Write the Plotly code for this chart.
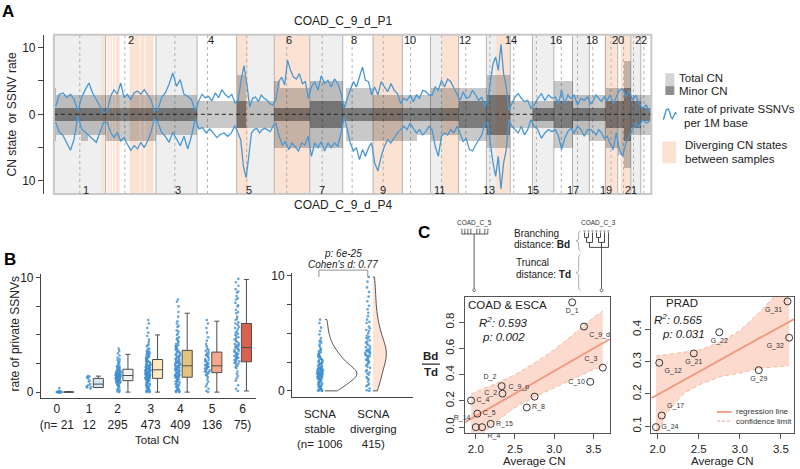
import plotly.graph_objects as go

W, H = 800, 469
FONT = "Liberation Sans, Arial, sans-serif"


def X(px):
    return px / W


def Y(py):
    return 1 - py / H


# ======================= Panel A data =======================
chrom_names = [str(i) for i in range(1, 23)]
chrom_len = [249, 243, 198, 191, 181, 171, 159, 146, 141, 136, 135, 134, 115, 107, 103, 90, 81, 78, 59, 63, 48, 51]
centromere = [125, 93, 91, 50, 48, 60, 60, 45, 49, 40, 53, 35, 17, 17, 19, 36, 24, 17, 26, 28, 13, 15]
label_pos = [154, 370, 597, 759, 942, 1134, 1292, 1444, 1586, 1716, 1858, 1980, 2096, 2204, 2309, 2418,
             2502, 2591, 2658, 2720, 2783, 2831]

# diverging CN regions (genome Mb)
div_start = [230, 258, 272, 284, 298, 365, 417, 441, 880, 1062, 1538, 1868, 2129, 2653, 2685, 2731]
div_end = [245, 267, 279, 293, 317, 413, 437, 481, 937, 1230, 1677, 1947, 2192, 2681, 2714, 2779]

# CN segments (chromosome, start Mb, end Mb within chromosome)
seg_chr = [1, 1, 1, 1, 2, 3, 4, 5, 5, 6, 6, 7, 8, 8, 9, 10, 10, 11, 11, 12, 13, 14, 15, 16, 17, 18, 19, 20, 20, 21, 22]
seg_start = [0, 12, 130, 165, 0, 0, 0, 0, 45, 0, 25, 0, 0, 15, 0, 0, 70, 0, 53, 0, 0, 0, 0, 0, 0, 0, 0, 0, 28, 0, 0]
seg_end = [12, 130, 165, 249, 243, 198, 191, 45, 181, 25, 171, 159, 15, 146, 141, 70, 136, 53, 135, 134, 115, 107,
           103, 90, 81, 78, 59, 28, 63, 48, 51]
p1_total = [4, 3, 3, 3, 3, 3, 2, 6, 2, 5, 4, 5, 2, 4, 3, 3, 3, 4, 4, 4, 6, 2, 2, 5, 3, 3, 4, 4, 8, 3, 3]
p1_minor = [1, 1, 1, 1, 1, 1, 0, 2, 0, 1, 1, 2, 1, 1, 1, 1, 1, 1, 1, 2, 3, 0, 1, 2, 1, 1, 2, 2, 4, 2, 1]
p4_total = [4, 3, 4, 3, 4, 3, 2, 2, 2, 5, 5, 5, 2, 4, 4, 4, 3, 4, 3, 4, 5, 2, 2, 5, 3, 4, 5, 6, 8, 3, 3]
p4_minor = [1, 1, 1, 1, 1, 1, 0, 2, 0, 1, 1, 2, 1, 1, 1, 1, 1, 1, 1, 2, 3, 0, 1, 2, 1, 1, 2, 2, 4, 2, 1]

# rate of private SSNVs per 1M base, per chromosome (P1 above, P4 below)
ssnv_p1 = [
    [1.2, 3.0, 3.2, 2.5, 3.0, 2.2, 0.5, 2.5, 3.7, 4.7, 3.2, 2.2, 1.2, 0.2],
    [0.5, 2.7, 3.7, 3.0, 4.7, 2.5, 3.0, 2.2, 3.2, 3.5, 3.0, 3.7, 3.0, 2.2, 0.5],
    [0.7, 2.5, 3.2, 4.5, 6.2, 4.2, 5.2, 3.0, 2.7, 2.2, 0.5],
    [2.0, 3.0, 2.5, 2.7, 2.0, 3.2, 2.5, 3.7, 3.0, 2.5, 3.0, 1.7],
    [2.1, 5.1, 7.3, 4.6, 1.1, 2.4, 2.6, 1.9, 2.9, 2.4, 2.1, 1.6, 1.4],
    [2.1, 4.9, 5.6, 4.4, 8.1, 6.6, 5.6, 5.3, 6.1, 4.6, 4.9, 2.4],
    [4.1, 4.9, 3.6, 5.8, 4.6, 5.1, 4.1, 5.3, 4.6, 3.1],
    [0.9, 2.4, 3.6, 4.9, 4.1, 5.6, 7.1, 5.1, 4.9, 2.9],
    [4.1, 2.9, 4.9, 4.1, 3.4, 4.6, 3.6, 3.1, 1.6],
    [2.4, 2.1, 2.9, 1.9, 2.9, 2.4, 3.6, 3.4, 2.9],
    [2.9, 4.1, 3.6, 5.1, 4.1, 5.3, 4.9, 3.9, 3.1],
    [2.1, 3.4, 2.4, 2.6, 3.6, 2.9, 2.1, 2.6, 1.1],
    [2.1, 5.1, 7.6, 8.6, 6.6, 10.5, 6.1, 4.1, 0.6],
    [1.6, 2.6, 3.1, 2.4, 1.9, 2.1, 0.9],
    [1.4, 2.4, 3.1, 2.1, 2.9, 2.4],
    [2.6, 1.6, 3.6, 1.6, 2.9, 2.4],
    [2.9, 1.4, 2.4, 2.1, 2.6],
    [1.6, 2.1, 2.9, 2.4, 1.9, 2.6],
    [2.1, 2.9, 1.6, 2.6],
    [3.6, 3.8, 2.6, 3.6],
    [2.1, 2.9, 1.6],
    [0.9, 1.4, 0.4],
]
ssnv_p4 = [
    [1.2, 2.7, 3.2, 4.2, 5.4, 3.7, 0.2, 2.2, 2.7, 3.2, 3.7, 4.2, 2.7, 1.2],
    [1.2, 2.7, 3.5, 2.7, 4.0, 3.5, 4.5, 5.4, 4.7, 5.2, 4.2, 5.0, 4.0, 2.7, 0.7],
    [1.2, 2.7, 3.3, 4.2, 2.7, 3.7, 4.7, 3.3, 5.2, 3.3, 0.7],
    [2.2, 2.0, 2.8, 2.2, 2.8, 3.5, 3.0, 2.8, 3.3, 2.8, 1.7],
    [2.8, 3.8, 7.8, 9.5, 6.3, 2.8, 2.3, 2.1, 2.8, 2.3, 2.1, 2.3, 2.6, 1.8],
    [1.3, 3.3, 4.6, 4.1, 5.3, 4.3, 5.0, 5.5, 4.3, 4.6, 3.3],
    [6.3, 4.3, 5.0, 4.1, 5.5, 4.3, 5.0, 4.3, 4.8, 2.8],
    [0.3, 2.3, 4.3, 5.5, 5.0, 6.8, 5.3, 6.3, 5.0, 4.3],
    [7.3, 8.5, 6.3, 4.8, 3.8, 4.3, 3.6, 2.8, 2.3],
    [1.8, 2.3, 1.3, 2.1, 2.8, 2.3, 3.1, 2.6, 1.8],
    [2.3, 4.8, 6.3, 3.3, 2.8, 3.1, 2.3, 2.8, 1.8],
    [2.8, 4.1, 3.6, 5.3, 5.5, 4.6, 3.8, 3.1, 1.3],
    [1.3, 4.3, 7.3, 9.3, 6.3, 11.2, 7.3, 5.3, 0.8],
    [1.8, 2.3, 2.8, 1.8, 3.1, 2.3, 0.8],
    [1.8, 2.3, 3.6, 2.8, 2.3, 2.6],
    [2.3, 3.3, 5.3, 3.6, 2.6, 2.1],
    [2.8, 1.8, 2.3, 3.3, 2.3],
    [2.3, 2.6, 3.1, 2.3, 2.8, 3.6],
    [3.3, 4.3, 5.3, 2.8],
    [5.3, 6.3, 4.3, 3.3],
    [2.3, 1.3, 1.8],
    [0.8, 1.3, 1.1],
]

# ======================= Panel B data =======================
cn_categories = [0, 1, 2, 3, 4, 5, 6]
cn_tick_text = ["0<br>(n= 21", "1<br>12", "2<br>295", "3<br>473", "4<br>409", "5<br>136", "6<br>75)"]
cn_tick_pos = [-0.27, 0.82, 1.78, 2.9, 3.9, 4.97, 6.0]
box_q1 = [0.0, 0.4, 1.0, 1.2, 1.3, 1.7, 2.65]
box_med = [0.0, 0.7, 1.45, 1.95, 2.3, 2.3, 3.9]
box_q3 = [0.02, 1.2, 2.0, 2.85, 3.65, 3.5, 6.0]
box_lo = [0.0, 0.4, 0.0, 0.0, 0.0, 0.0, 0.1]
box_hi = [0.05, 1.4, 3.3, 5.0, 6.9, 6.2, 9.85]
box_colors = ["#dfe9f5", "#d5e5f3", "#f2f2f2", "#fbe9c2", "#e2c481", "#f5a98a", "#d9624f"]

cn_points = [
    [0, 0, 0, 0, 0, 0.02, 0.03, 0, 0.05, 0, 0.04, 0, 0.08, 0, 0.02, 0, 0.1, 0, 0.35, 0.05, 0],
    [1.3, 1.4, 0.4, 0.5, 0.6, 0.9, 1.0, 1.35, 0.45, 0.7, 1.2, 0.3],
    [0.0, 0.05, 0.2, 0.3, 0.4, 0.5, 0.55, 0.6, 0.7, 0.75, 0.8, 0.85, 0.9, 0.95, 1.0, 1.0, 1.05, 1.1, 1.1, 1.15,
     1.2, 1.2, 1.25, 1.3, 1.3, 1.35, 1.4, 1.4, 1.45, 1.45, 1.5, 1.5, 1.55, 1.6, 1.6, 1.65, 1.7, 1.75, 1.8, 1.85,
     1.9, 1.95, 2.0, 2.0, 2.1, 2.2, 2.3, 2.4, 2.5, 2.6, 2.7, 2.8, 3.0, 3.2, 3.4, 3.6, 3.8, 1.15, 0.9, 1.6, 1.25,
     1.75, 1.05, 0.65, 2.15, 1.35, 0.15, 2.9, 1.5, 1.7, 1.12, 1.38, 1.58, 1.82, 0.98, 1.28, 2.25, 0.88],
    [0, 0, 0.05, 0.1, 0.2, 0.3, 0.4, 0.5, 0.6, 0.7, 0.8, 0.9, 1.0, 1.05, 1.1, 1.15, 1.2, 1.25, 1.3, 1.35, 1.4,
     1.45, 1.5, 1.55, 1.6, 1.65, 1.7, 1.75, 1.8, 1.85, 1.9, 1.95, 2.0, 2.05, 2.1, 2.15, 2.2, 2.25, 2.3, 2.35, 2.4,
     2.5, 2.6, 2.7, 2.8, 2.9, 3.0, 3.1, 3.2, 3.3, 3.4, 3.5, 3.6, 3.8, 4.0, 4.2, 4.4, 4.6, 4.9, 5.2, 5.6, 6.0, 6.3,
     0.35, 0.65, 0.95, 1.12, 1.28, 1.42, 1.58, 1.72, 1.88, 2.02, 2.18, 2.32, 2.48, 2.65, 2.85, 3.05, 3.25, 3.55,
     0.15, 0.55, 0.85, 1.02, 1.18, 1.33, 1.48, 1.63, 1.78, 1.92, 2.08, 2.28, 2.55, 2.75, 2.95, 3.15, 3.45, 3.75,
     4.1, 0.25, 0.75, 1.22, 1.52, 1.68, 1.98, 2.42, 2.68, 3.35, 0.45],
    [0, 0, 0.05, 0.1, 0.2, 0.3, 0.45, 0.6, 0.75, 0.9, 1.0, 1.1, 1.2, 1.3, 1.35, 1.45, 1.55, 1.65, 1.75, 1.85,
     1.95, 2.05, 2.15, 2.25, 2.3, 2.4, 2.5, 2.6, 2.7, 2.8, 2.9, 3.0, 3.15, 3.3, 3.45, 3.6, 3.75, 3.9, 4.1, 4.3,
     4.5, 4.8, 5.1, 5.4, 5.8, 6.2, 6.6, 7.0, 7.5, 8.1, 0.15, 0.4, 0.7, 0.95, 1.15, 1.25, 1.4, 1.5, 1.6, 1.7, 1.8,
     1.9, 2.0, 2.1, 2.2, 2.35, 2.45, 2.55, 2.65, 2.75, 2.95, 3.1, 3.25, 3.4, 3.55, 3.7, 3.85, 4.0, 4.2, 4.4, 4.7,
     5.0, 5.3, 5.7, 6.0, 0.5, 0.85, 1.05, 1.32, 1.62, 1.98, 2.28, 2.62, 3.05, 3.5, 4.05, 4.6, 1.38, 2.12, 2.85,
     0.25, 0.65, 1.48, 2.52, 3.22, 3.95, 7.9],
    [0, 0.1, 0.3, 0.5, 0.7, 0.9, 1.1, 1.3, 1.5, 1.6, 1.7, 1.75, 1.8, 1.9, 2.0, 2.05, 2.1, 2.2, 2.25, 2.3, 2.35,
     2.4, 2.5, 2.6, 2.7, 2.8, 2.9, 3.0, 3.1, 3.2, 3.3, 3.4, 3.5, 3.6, 3.8, 4.0, 4.2, 4.5, 4.8, 5.2, 5.6, 6.0, 6.3,
     1.45, 1.85, 2.15, 2.45, 2.75, 3.25, 3.7],
    [0.1, 0.3, 0.6, 1.0, 1.4, 1.8, 2.1, 2.3, 2.5, 2.6, 2.7, 2.8, 2.9, 3.0, 3.1, 3.2, 3.3, 3.4, 3.5, 3.6, 3.7, 3.8,
     3.9, 4.0, 4.1, 4.2, 4.3, 4.5, 4.7, 4.9, 5.1, 5.3, 5.5, 5.7, 5.9, 6.1, 6.3, 6.6, 6.9, 7.2, 7.5, 7.8, 8.1, 8.4,
     8.7, 9.0, 9.3, 9.6, 9.9, 2.2, 2.55, 2.75, 2.95, 3.15, 3.35, 3.55, 3.75, 3.95, 4.15, 4.4, 4.6, 4.8, 5.0, 5.2,
     5.6, 6.0, 6.4, 7.0, 7.6, 8.2, 8.8, 1.2, 1.6, 2.4, 3.05],
]

scna_groups = ["SCNA<br>stable<br>(n= 1006", "SCNA<br>diverging<br>415)"]
scna_stable = [0, 0, 0, 0.05, 0.1, 0.15, 0.2, 0.3, 0.4, 0.5, 0.6, 0.7, 0.8, 0.9, 1.0, 1.05, 1.1, 1.15, 1.2, 1.25,
               1.3, 1.35, 1.4, 1.45, 1.5, 1.5, 1.55, 1.6, 1.65, 1.7, 1.75, 1.8, 1.85, 1.9, 1.95, 2.0, 2.05, 2.1,
               2.2, 2.3, 2.4, 2.5, 2.6, 2.7, 2.8, 2.9, 3.0, 3.1, 3.2, 3.3, 3.45, 3.6, 3.75, 3.9, 4.05, 4.2, 4.4,
               4.6, 4.9, 5.2, 5.5, 5.9, 6.2, 0.25, 0.45, 0.65, 0.85, 1.02, 1.18, 1.32, 1.48, 1.62, 1.78, 1.92,
               2.15, 2.35, 2.55, 2.75, 3.05, 3.35, 0.35, 0.75, 1.08, 1.38, 1.58, 1.72, 1.98, 2.25, 2.65, 2.95,
               1.12, 1.28, 1.42, 1.52, 1.68, 0.95, 2.45, 3.15, 3.55, 4.3, 0.55, 1.85]
scna_diverging = [0, 0.05, 0.2, 0.4, 0.6, 0.8, 1.0, 1.2, 1.4, 1.6, 1.8, 2.0, 2.2, 2.4, 2.6, 2.8, 3.0, 3.1, 3.2,
                  3.3, 3.4, 3.5, 3.6, 3.8, 4.0, 4.2, 4.4, 4.6, 4.8, 5.0, 5.3, 5.6, 5.9, 6.2, 6.5, 6.8, 7.1, 7.4,
                  7.8, 8.2, 8.6, 9.0, 9.5, 9.9, 1.1, 1.7, 2.3, 2.7, 2.9, 3.15, 3.45, 3.7, 3.9, 4.3, 4.7, 5.2, 6.0,
                  0.5, 1.5, 2.5, 3.35, 2.1, 2.65, 3.05, 3.55, 4.1, 4.55, 5.45]

# ======================= Panel C data =======================
coad_names = ["D_1", "C_9_d", "C_3", "C_10", "D_2", "C_2", "C_9_p", "R_8", "C_4", "C_5", "R_14", "R_4", "R_15"]
coad_cn = [3.23, 3.38, 3.62, 3.46, 2.33, 2.34, 2.75, 2.65, 1.94, 2.02, 2.0, 2.08, 2.19]
coad_ratio = [0.952, 0.767, 0.454, 0.346, 0.313, 0.256, 0.233, 0.150, 0.203, 0.103, 0.0, 0.0, 0.025]
coad_lblpos = ["bottom center", "bottom right", "top left", "middle left", "top left", "middle left", "top left",
               "middle right", "middle right", "middle right", "top left", "bottom right", "middle right"]
coad_reg_x = [1.864, 3.709]
coad_reg_y = [0.038, 0.672]
coad_ci_x = [1.94, 2.0, 2.25, 2.5, 2.75, 3.0, 3.25, 3.5, 3.62]
coad_ci_hi = [0.25, 0.27, 0.33, 0.40, 0.49, 0.59, 0.71, 0.835, 0.885]
coad_ci_lo = [-0.13, -0.10, 0.04, 0.15, 0.23, 0.30, 0.37, 0.44, 0.46]

prad_names = ["G_31", "G_32", "G_22", "G_21", "G_12", "G_29", "G_17", "G_24"]
prad_cn = [3.58, 3.60, 2.75, 2.44, 2.02, 3.23, 2.05, 1.98]
prad_ratio = [0.488, 0.375, 0.392, 0.326, 0.297, 0.274, 0.133, 0.097]
prad_lblpos = ["bottom left", "bottom left", "bottom center", "bottom center", "bottom right", "bottom center",
               "top right", "middle right"]
prad_reg_x = [1.924, 3.659]
prad_reg_y = [0.187, 0.433]
prad_ci_x = [1.98, 2.11, 2.31, 2.5, 2.76, 3.0, 3.24, 3.44, 3.6]
prad_ci_hi = [0.318, 0.322, 0.328, 0.336, 0.361, 0.397, 0.454, 0.51, 0.555]
prad_ci_lo = [0.065, 0.141, 0.20, 0.228, 0.254, 0.265, 0.28, 0.285, 0.288]

# ======================= Build figure =======================
fig = go.Figure()
chr_start = [sum(chrom_len[:i]) for i in range(22)]
genome_len = sum(chrom_len)

BLUE = "#4a98d3"
TOT = "rgba(0,0,0,0.21)"
MIN = "rgba(0,0,0,0.38)"

# --- Panel A bars
seg_mid = [chr_start[c - 1] + (s + e) / 2 for c, s, e in zip(seg_chr, seg_start, seg_end)]
seg_w = [e - s for s, e in zip(seg_start, seg_end)]
for yv, col in [(p1_total, TOT), ([-v for v in p4_total], TOT), (p1_minor, MIN), ([-v for v in p4_minor], MIN)]:
    fig.add_trace(go.Bar(x=seg_mid, y=yv, width=seg_w, base=0, marker=dict(color=col, line=dict(width=0)),
                         xaxis="x", yaxis="y", hoverinfo="skip"))

# --- Panel A SSNV lines
for vals, sign in [(ssnv_p1, 1), (ssnv_p4, -1)]:
    xs, ys = [], []
    for i in range(22):
        n = len(vals[i])
        for j, v in enumerate(vals[i]):
            xs.append(chr_start[i] + (j + 0.5) * chrom_len[i] / n)
            ys.append(sign * v)
    fig.add_trace(go.Scatter(x=xs, y=ys, mode="lines", line=dict(color=BLUE, width=1.3),
                             xaxis="x", yaxis="y", hoverinfo="skip"))

# --- Panel B left: jittered points + boxes
for k in cn_categories:
    fig.add_trace(go.Box(y=cn_points[k], x0=k - 0.19, width=0.22, boxpoints="all", jitter=0.9, pointpos=0,
                         fillcolor="rgba(0,0,0,0)", line=dict(width=0, color="rgba(0,0,0,0)"),
                         marker=dict(size=2.6, color="#3f8fd0", opacity=0.8),
                         xaxis="x2", yaxis="y2", hoverinfo="skip"))
    fig.add_trace(go.Box(x=[k + 0.13], q1=[box_q1[k]], median=[box_med[k]], q3=[box_q3[k]],
                         lowerfence=[box_lo[k]], upperfence=[box_hi[k]], width=0.34,
                         fillcolor=box_colors[k], line=dict(color="#4d4d4d", width=1), boxpoints=False,
                         xaxis="x2", yaxis="y2", hoverinfo="skip"))

# --- Panel B right: points + half violins
for gi, (vals, fill, w, bw) in enumerate([(scna_stable, "white", 1.33, 0.55),
                                          (scna_diverging, "#fde4d5", 0.56, 0.9)]):
    fig.add_trace(go.Box(y=vals, x0=gi, width=0.15, boxpoints="all", jitter=0.9, pointpos=0,
                         fillcolor="rgba(0,0,0,0)", line=dict(width=0, color="rgba(0,0,0,0)"),
                         marker=dict(size=2.6, color="#3f8fd0", opacity=0.8),
                         xaxis="x3", yaxis="y3", hoverinfo="skip"))
    fig.add_trace(go.Violin(y=vals, x0=gi + 0.1, side="positive", width=w, points=False, spanmode="hard",
                            bandwidth=bw, fillcolor=fill, line=dict(color="#555555", width=1),
                            xaxis="x3", yaxis="y3", hoverinfo="skip", scalemode="width"))

# --- Panel C
SAL = "#ef9c82"
for (cx, hi, lo, rx, ry, nm, xs, ys, lp, xa, ya) in [
    (coad_ci_x, coad_ci_hi, coad_ci_lo, coad_reg_x, coad_reg_y, coad_names, coad_cn, coad_ratio, coad_lblpos, "x4", "y4"),
    (prad_ci_x, prad_ci_hi, prad_ci_lo, prad_reg_x, prad_reg_y, prad_names, prad_cn, prad_ratio, prad_lblpos, "x5", "y5")]:
    fig.add_trace(go.Scatter(x=cx + cx[::-1], y=hi + lo[::-1], fill="toself", fillcolor="rgba(249,190,165,0.55)",
                             line=dict(width=0), mode="lines", xaxis=xa, yaxis=ya, hoverinfo="skip"))
    fig.add_trace(go.Scatter(x=cx, y=hi, mode="lines", line=dict(color="#f5b79f", width=1, dash="4px,3px"),
                             xaxis=xa, yaxis=ya, hoverinfo="skip"))
    fig.add_trace(go.Scatter(x=cx, y=lo, mode="lines", line=dict(color="#f5b79f", width=1, dash="4px,3px"),
                             xaxis=xa, yaxis=ya, hoverinfo="skip"))
    fig.add_trace(go.Scatter(x=rx, y=ry, mode="lines", line=dict(color=SAL, width=2),
                             xaxis=xa, yaxis=ya, hoverinfo="skip"))
    fig.add_trace(go.Scatter(x=xs, y=ys, mode="markers+text", text=nm, textposition=lp,
                             textfont=dict(size=7, color="#333333", family=FONT),
                             marker=dict(symbol="circle-open", size=7, color="#333333", line=dict(width=1)),
                             xaxis=xa, yaxis=ya, hoverinfo="skip", cliponaxis=False))

# ======================= Shapes =======================
shapes = []
for i in range(22):
    if i % 2 == 0:
        shapes.append(dict(type="rect", xref="x", yref="y domain", x0=chr_start[i], x1=chr_start[i] + chrom_len[i],
                           y0=0, y1=1, fillcolor="#efefef", line=dict(width=0), layer="below"))
for s, e in zip(div_start, div_end):
    shapes.append(dict(type="rect", xref="x", yref="y domain", x0=s, x1=e, y0=0, y1=1,
                       fillcolor="#fce2d2", line=dict(width=0), layer="below"))
for i in range(1, 22):
    shapes.append(dict(type="line", xref="x", yref="y domain", x0=chr_start[i], x1=chr_start[i], y0=0, y1=1,
                       line=dict(color="#b3b3b3", width=1), layer="below"))
for i in range(22):
    cx = chr_start[i] + centromere[i]
    shapes.append(dict(type="line", xref="x", yref="y domain", x0=cx, x1=cx, y0=0, y1=1,
                       line=dict(color="#a0a0a0", width=0.8, dash="3px,3px"), layer="below"))
shapes.append(dict(type="line", xref="x domain", yref="y", x0=0, x1=1, y0=0, y1=0,
                   line=dict(color="#222222", width=1, dash="4px,3px")))
shapes.append(dict(type="rect", xref="x domain", yref="y domain", x0=0, x1=1, y0=0, y1=1,
                   line=dict(color="#c8c8c8", width=2)))


def P(pts):
    return " ".join(("M" if i == 0 else "L") + f"{X(a):.5f},{Y(b):.5f}" for i, (a, b) in enumerate(pts))


def line(x0, y0, x1, y1, col="#333333", w=1, dash=None):
    d = dict(color=col, width=w)
    if dash:
        d["dash"] = dash
    shapes.append(dict(type="line", xref="paper", yref="paper", x0=X(x0), y0=Y(y0), x1=X(x1), y1=Y(y1), line=d))


def circ(cx, cy, r, col="#555555", fill="white", w=0.8):
    shapes.append(dict(type="circle", xref="paper", yref="paper", x0=X(cx - r), x1=X(cx + r), y0=Y(cy + r),
                       y1=Y(cy - r), line=dict(color=col, width=w), fillcolor=fill))


# Panel A legend
shapes.append(dict(type="rect", xref="paper", yref="paper", x0=X(665), x1=X(674), y0=Y(83), y1=Y(70),
                   fillcolor="#d4d4d4", line=dict(width=0)))
shapes.append(dict(type="rect", xref="paper", yref="paper", x0=X(665), x1=X(674), y0=Y(92), y1=Y(83),
                   fillcolor="#8e8e8e", line=dict(width=0)))
shapes.append(dict(type="path", xref="paper", yref="paper",
                   path=P([(663, 117), (664.5, 112), (666, 107), (668, 106), (669.5, 110), (670.5, 114),
                           (672, 116), (673.5, 113), (675, 110), (676.5, 111)]),
                   line=dict(color=BLUE, width=1.4)))
shapes.append(dict(type="rect", xref="paper", yref="paper", x0=X(662), x1=X(676), y0=Y(161), y1=Y(139),
                   fillcolor="#fce2d2", line=dict(width=0)))

# Panel B right bracket
line(317.7, 269, 366.7, 269, col="#777777", w=0.8)
line(317.7, 269, 317.7, 276, col="#777777", w=0.8)
line(366.7, 269, 366.7, 276, col="#777777", w=0.8)

# Panel C trees
for xx in [461, 464, 467, 470, 476, 479, 484, 487]:
    circ(xx, 228, 0.9, col="#aaaaaa", fill="#aaaaaa", w=0.5)
for xx in [461, 464, 467, 470, 476, 479, 484, 487]:
    line(xx, 229, xx, 232.5, w=0.8)
line(461, 232.5, 487, 232.5, w=0.8)
line(473.3, 232.5, 473.3, 288, w=0.8)
circ(473.3, 289.3, 1.4)

for xx in [584, 588, 592, 596, 600, 604, 608]:
    circ(xx, 229.5, 0.9, col="#aaaaaa", fill="#aaaaaa", w=0.5)
for (a, b, c) in [(584, 231, 236), (588, 231, 236), (592, 231, 241), (596, 231, 236), (600, 231, 236),
                  (604, 231, 241), (608, 231, 246), (586, 236, 241), (598, 236, 241), (589, 241, 246),
                  (601, 241, 246)]:
    line(a, b, a, c, w=0.9)
for (a, b, yy) in [(584, 588, 236), (596, 600, 236), (586, 592, 241), (598, 604, 241), (589, 608, 246)]:
    line(a, yy, b, yy, w=0.9)
line(601, 246, 601, 288, w=0.8)
circ(601, 289.3, 1.4)


def brace(x, y0, y1):
    ym = (y0 + y1) / 2
    return P([(x + 2.5, y0), (x + 1, y0 + 1.5), (x + 0.6, y0 + 4), (x + 0.6, ym - 3), (x, ym - 1), (x - 2, ym),
              (x, ym + 1), (x + 0.6, ym + 3), (x + 0.6, y1 - 4), (x + 1, y1 - 1.5), (x + 2.5, y1)])


shapes.append(dict(type="path", xref="paper", yref="paper", path=brace(577.5, 229, 250),
                   line=dict(color="#999999", width=0.8)))
shapes.append(dict(type="path", xref="paper", yref="paper", path=brace(577.5, 253, 290),
                   line=dict(color="#999999", width=0.8)))

# Bd / Td fraction bar
line(421, 364, 439, 364, col="#222222", w=1.2)

# PRAD legend
line(716.7, 412.3, 731.7, 412.3, col=SAL, w=1.8)
line(716.7, 421.7, 731.7, 421.7, col="#f5b79f", w=1.3, dash="3px,2px")

# ======================= Annotations =======================
ann = []


def txt(x, y, t, size=12, xa="center", ya="middle", color="#222222", angle=0, **kw):
    ann.append(dict(x=X(x), y=Y(y), xref="paper", yref="paper", text=t, showarrow=False, xanchor=xa, yanchor=ya,
                    font=dict(size=size, color=color, family=FONT), textangle=angle, **kw))


txt(6, 8, "<b>A</b>", size=17, color="#000")
txt(8, 258, "<b>B</b>", size=17, color="#000")
txt(423.5, 231, "<b>C</b>", size=17, color="#000")

txt(342, 17, "COAD_C_9_d_P1", size=12)
txt(342, 203, "COAD_C_9_d_P4", size=12)
txt(10, 111.7, "CN state  or SSNV rate", size=12, angle=-90)

for i in range(22):
    ypix = 188 if i % 2 == 0 else 36
    ann.append(dict(x=label_pos[i], y=Y(ypix), xref="x", yref="paper", text=chrom_names[i], showarrow=False,
                    xanchor="center", yanchor="middle", font=dict(size=11, color="#222", family=FONT)))

txt(677, 75, "Total CN", size=11.5, xa="left")
txt(677, 88, "Minor CN", size=11.5, xa="left")
txt(682, 106, "rate of private SSNVs", size=11.5, xa="left")
txt(682, 120, "per 1M base", size=11.5, xa="left")
txt(683, 143, "Diverging CN states", size=11.5, xa="left")
txt(683, 157, "between samples", size=11.5, xa="left")

# Panel B
txt(13, 333, "rate of private SSNVs", size=12, angle=-90)
txt(155, 441, "Total CN", size=11.5)
txt(342, 252, "<i>p: 6e-25</i>", size=10)
txt(342, 263, "<i>Cohen's d: 0.77</i>", size=10)
for gx, gt in zip([0, 1.12], scna_groups):
    ann.append(dict(x=gx, y=Y(406), xref="x3", yref="paper", text=gt, showarrow=False, xanchor="center",
                    yanchor="top", font=dict(size=11.5, color="#222", family=FONT)))

# Panel C text
txt(473.3, 221.7, "COAD_C_5", size=6.5, color="#333")
txt(598.3, 221.7, "COAD_C_3", size=6.5, color="#333")
txt(511.7, 231.7, "Branching", size=10, xa="left")
txt(511.7, 243.3, "distance: <b>Bd</b>", size=10, xa="left")
txt(513.3, 261.7, "Truncal", size=10, xa="left")
txt(513.3, 273.3, "distance: <b>Td</b>", size=10, xa="left")
txt(430, 356, "<b>Bd</b>", size=11.5)
txt(430, 372, "<b>Td</b>", size=11.5)
txt(506.7, 304, "COAD & ESCA", size=11.5)
txt(503, 321.5, "<i>R<sup>2</sup>: 0.593</i>", size=11.5)
txt(503, 337, "<i>p: 0.002</i>", size=11.5)
txt(533, 461.7, "Average CN", size=11.5)
txt(681.7, 302.7, "PRAD", size=11.5)
txt(678.3, 318.5, "<i>R<sup>2</sup>: 0.565</i>", size=11.5)
txt(683, 334, "<i>p: 0.031</i>", size=11.5)
txt(722, 461.7, "Average CN", size=11.5)
txt(734, 412.3, "regression line", size=8, xa="left", color="#333")
txt(734, 421.7, "confidence limit", size=8, xa="left", color="#333")

# ======================= Axes =======================
AX = dict(showgrid=False, zeroline=False, color="#333333",
          tickfont=dict(size=12, family=FONT, color="#222222"))
CAX = dict(showline=True, mirror=True, linecolor="#555", linewidth=1.2, ticks="outside", ticklen=5,
           tickcolor="#555", showgrid=False, zeroline=False, tickfont=dict(size=11.5, family=FONT, color="#222"))

fig.update_layout(
    width=W, height=H, margin=dict(l=0, r=0, t=0, b=0), paper_bgcolor="white", plot_bgcolor="rgba(0,0,0,0)",
    showlegend=False, barmode="overlay", bargap=0, font=dict(family=FONT),
    shapes=shapes, annotations=ann,
    xaxis=dict(domain=[X(52), X(651)], range=[0, genome_len], visible=False, anchor="y"),
    yaxis=dict(domain=[Y(192), Y(31)], range=[-11.95, 11.95], anchor="free", position=X(41), showline=True,
               linecolor="#444", linewidth=1, ticks="outside", ticklen=5, tickcolor="#444",
               tickvals=[-10, -5, 0, 5, 10], ticktext=["10", " ", "0", " ", "10"], **AX),
    xaxis2=dict(domain=[X(39), X(255)], range=[-0.808, 6.465], anchor="y2", showline=True, linecolor="#444",
                ticks="", tickvals=cn_tick_pos, ticktext=cn_tick_text, **AX),
    yaxis2=dict(domain=[Y(398.3), Y(273)], range=[-0.52, 10.32], anchor="x2", showline=True, linecolor="#444",
                ticks="outside", ticklen=4, tickcolor="#444", tickvals=[0, 2.5, 5, 7.5, 10],
                ticktext=["0", " ", " ", " ", "10"], **AX),
    xaxis3=dict(domain=[X(290.7), X(411.7)], range=[-0.59, 1.93], anchor="y3", showline=True, linecolor="#444",
                showticklabels=False, ticks="", **AX),
    yaxis3=dict(domain=[Y(397.3), Y(271.7)], range=[-0.54, 10.27], anchor="x3", showline=True, linecolor="#444",
                ticks="outside", ticklen=4, tickcolor="#444", tickvals=[0, 2.5, 5, 7.5, 10],
                ticktext=["0", " ", " ", " ", "10"], **AX),
    xaxis4=dict(domain=[X(464.3), X(609.3)], range=[1.864, 3.709], anchor="y4",
                tickvals=[2.0, 2.5, 3.0, 3.5], ticktext=["2.0", "2.5", "3.0", "3.5"], **CAX),
    yaxis4=dict(domain=[Y(433.3), Y(295.7)], range=[-0.042, 0.996], anchor="x4",
                tickvals=[0, 0.2, 0.4, 0.6, 0.8], ticktext=["0.0", "0.2", "0.4", "0.6", "0.8"], tickangle=-90,
                **CAX),
    xaxis5=dict(domain=[X(651), X(794)], range=[1.924, 3.659], anchor="y5",
                tickvals=[2.0, 2.5, 3.0, 3.5], ticktext=["2.0", "2.5", "3.0", "3.5"], **CAX),
    yaxis5=dict(domain=[Y(433.3), Y(295.7)], range=[0.0797, 0.503], anchor="x5",
                tickvals=[0.1, 0.2, 0.3, 0.4], ticktext=["0.1", "0.2", "0.3", "0.4"], tickangle=-90, **CAX),
)

fig.write_html("out.html", config={"displayModeBar": False},
               post_script="document.body.style.margin='0px';document.body.style.overflow='hidden';")
